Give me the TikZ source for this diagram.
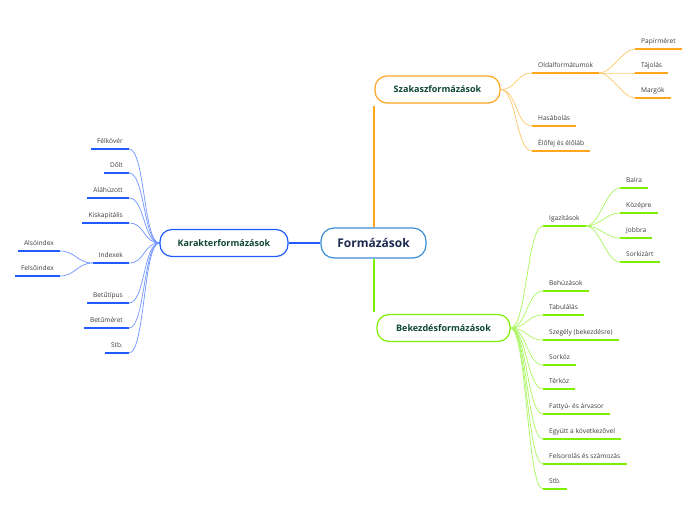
\documentclass[tikz,border=0pt]{standalone}
\usepackage{fontspec}
\setmainfont{Open Sans}
\usepackage{tikz}
\usetikzlibrary{backgrounds}

\definecolor{karblue}{HTML}{1F5BFF}
\definecolor{karcurve}{HTML}{6F94FF}
\definecolor{szakorange}{HTML}{FFA51E}
\definecolor{szakcurve}{HTML}{FFC664}
\definecolor{bekgreen}{HTML}{7CF000}
\definecolor{bekcurve}{HTML}{A9F55E}
\definecolor{rootblue}{HTML}{3A8DD4}
\definecolor{titlegreen}{HTML}{0F4638}
\definecolor{rootnavy}{HTML}{1C2A4F}
\definecolor{leafgray}{HTML}{3C3C3C}

\tikzset{
  topic/.style={draw, rounded corners=12pt, fill=white, line width=1.2pt,
    font=\bfseries\fontsize{9}{11}\selectfont, text=titlegreen, minimum height=27pt},
  leaf/.style={font=\fontsize{6.6}{8}\selectfont, text=leafgray, inner xsep=6pt,
    inner ysep=4pt, text height=5.5pt, text depth=1.5pt},
  under/.style={line width=2pt, draw=#1},
  curve/.style={line width=0.7pt, draw=#1},
  trunk/.style={line width=1.6pt, color=#1}
}

\begin{document}
\begin{tikzpicture}[x=1pt,y=-1pt]
    \useasboundingbox (0,0) rectangle (696,520);
    % main topics
    \node[draw=rootblue, rounded corners=13pt, fill=white, line width=1.2pt,
      font=\bfseries\fontsize{12}{14}\selectfont, text=rootnavy,
      minimum width=105pt, minimum height=30pt] (root) at (373.5,243) {Formázások};
    \node[topic, draw=karblue, minimum width=128pt] (kar) at (224,243) {Karakterformázások};
    \node[topic, draw=szakorange, minimum width=125pt] (szak) at (437.5,89.5) {Szakaszformázások};
    \node[topic, draw=bekgreen, minimum width=133pt] (bek) at (443.5,328) {Bekezdésformázások};

    % left side
    \node[leaf, anchor=south east] (felkover) at (129,149) {Félkövér};
    \node[leaf, anchor=south east] (dolt) at (129,173) {Dőlt};
    \node[leaf, anchor=south east] (alahuzott) at (129,198) {Aláhúzott};
    \node[leaf, anchor=south east] (kiskap) at (129,223) {Kiskapitális};
    \node[leaf, anchor=south east] (indexek) at (129,263) {Indexek};
    \node[leaf, anchor=south east] (also) at (60,251) {Alsóindex};
    \node[leaf, anchor=south east] (felso) at (60,276) {Felsőindex};
    \node[leaf, anchor=south east] (betutip) at (129,303) {Betűtípus};
    \node[leaf, anchor=south east] (betumer) at (129,328) {Betűméret};
    \node[leaf, anchor=south east] (karstb) at (129,353) {Stb.};

    % top right
    \node[leaf, anchor=south west] (oldal) at (532,73) {Oldalformátumok};
    \node[leaf, anchor=south west] (papir) at (635,49) {Papírméret};
    \node[leaf, anchor=south west] (tajolas) at (635,73) {Tájolás};
    \node[leaf, anchor=south west] (margok) at (635,98) {Margók};
    \node[leaf, anchor=south west] (hasab) at (532,126) {Hasábolás};
    \node[leaf, anchor=south west] (elofej) at (532,151) {Élőfej és élőláb};

    % bottom right
    \node[leaf, anchor=south west] (igazit) at (543,226) {Igazítások};
    \node[leaf, anchor=south west] (balra) at (620,188) {Balra};
    \node[leaf, anchor=south west] (kozepre) at (620,213) {Középre};
    \node[leaf, anchor=south west] (jobbra) at (620,238) {Jobbra};
    \node[leaf, anchor=south west] (sorkiz) at (620,262) {Sorkizárt};
    \node[leaf, anchor=south west] (behuz) at (543,291) {Behúzások};
    \node[leaf, anchor=south west] (tabul) at (543,315) {Tabulálás};
    \node[leaf, anchor=south west] (szegely) at (543,340) {Szegély (bekezdésre)};
    \node[leaf, anchor=south west] (sorkoz) at (543,365) {Sorköz};
    \node[leaf, anchor=south west] (terkoz) at (543,389) {Térköz};
    \node[leaf, anchor=south west] (fattyu) at (543,414) {Fattyú- és árvasor};
    \node[leaf, anchor=south west] (egyutt) at (543,439) {Együtt a következővel};
    \node[leaf, anchor=south west] (felsor) at (543,464) {Felsorolás és számozás};
    \node[leaf, anchor=south west] (bekstb) at (543,489) {Stb.};

    % underlines
    \foreach \n in {felkover,dolt,alahuzott,kiskap,indexek,also,felso,betutip,betumer,karstb}
      \draw[under=karblue] (\n.south west) -- (\n.south east);
    \foreach \n in {oldal,papir,tajolas,margok,hasab,elofej}
      \draw[under=szakorange] (\n.south west) -- (\n.south east);
    \foreach \n in {igazit,balra,kozepre,jobbra,sorkiz,behuz,tabul,szegely,sorkoz,terkoz,fattyu,egyutt,felsor,bekstb}
      \draw[under=bekgreen] (\n.south west) -- (\n.south east);

    % trunks
    \draw[trunk=karblue, line width=1.2pt] (root.west) -- (kar.east);
    \draw[trunk=szakorange] ([xshift=0.5pt]root.north) -- ([xshift=0.5pt,yshift=-2pt]root.north |- szak.south);
    \draw[trunk=bekgreen] ([xshift=0.5pt]root.south) -- ([xshift=0.5pt,yshift=2pt]root.south |- bek.north);

    \begin{scope}[on background layer]
      % connectors
      \foreach \n in {felkover,dolt,alahuzott,kiskap,indexek,betutip,betumer,karstb}
        \draw[curve=karcurve] (kar.west) .. controls +(-16,0) and +(16,0) .. (\n.south east);
      \foreach \n in {also,felso}
        \draw[curve=karcurve] (indexek.south west) .. controls +(-15,0) and +(15,0) .. (\n.south east);
      \foreach \n in {oldal,hasab,elofej}
        \draw[curve=szakcurve] (szak.east) .. controls +(16,0) and +(-16,0) .. (\n.south west);
      \foreach \n in {papir,tajolas,margok}
        \draw[curve=szakcurve] (oldal.south east) .. controls +(12,0) and +(-12,0) .. (\n.south west);
      \foreach \n in {igazit,behuz,tabul,szegely,sorkoz,terkoz,fattyu,egyutt,felsor,bekstb}
        \draw[curve=bekcurve] (bek.east) .. controls +(16,0) and +(-16,0) .. (\n.south west);
      \foreach \n in {balra,kozepre,jobbra,sorkiz}
        \draw[curve=bekcurve] (igazit.south east) .. controls +(14,0) and +(-14,0) .. (\n.south west);
    \end{scope}
  \end{tikzpicture}
\end{document}
